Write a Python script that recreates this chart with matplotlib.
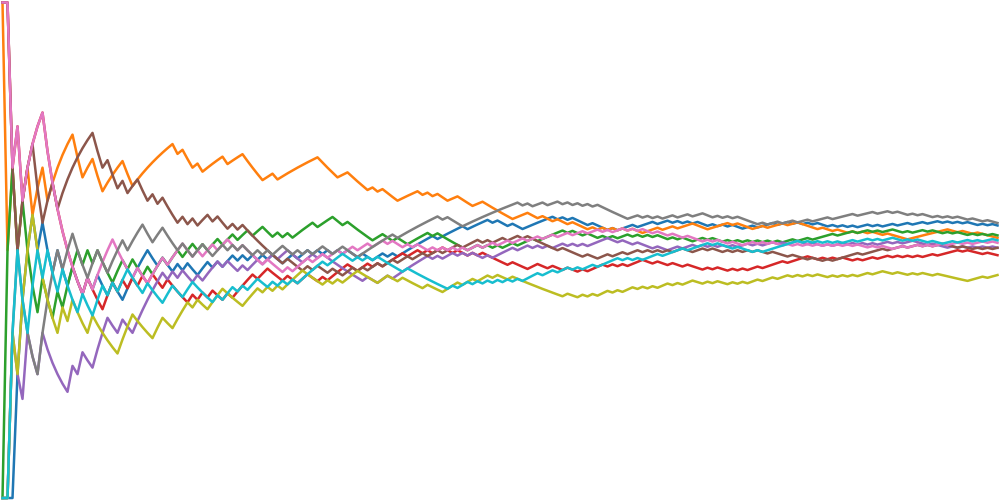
import numpy as np
import matplotlib
matplotlib.use("Agg")
import matplotlib.pyplot as plt

# Coin-flip sequences (1 = head, 0 = tail); each line is the running share of heads.
flips_blue = "".join([
    "000", "111101", "0010010010100100", "11111", "0010010100", "1101011010", "1010100110",
    "1101", "010101", "00100", "11010", "11", "1111", "1011", "11", "1011", "1101", "00100", "11111",
    "1010100010", "0010111011", "1011010101", "0010101001", "1011101101", "0101001010",
    "1011010110", "1101101101", "0101001010"])
flips_orange = "".join([
    "1010110", "11011111", "00", "11", "00", "1111", "00", "11111111", "01", "00", "1", "0",
    "1111", "0", "111", "0000", "11", "0", "11111111", "0000", "11", "0000", "101", "000",
    "1111", "0101", "00", "11", "000", "11", "000000", "11", "10010",
    "0100100010", "1010101001", "1101101110", "0011110100", "0110111011", "0000100100",
    "1010100100", "0011111111", "0010010000"])
flips_green = "".join([
    "011010", "00100", "10111010100011010010", "110110110", "1011011011", "011", "0010101",
    "111", "0", "111", "00", "1", "00000", "11", "00100", "1111", "0", "1", "000000", "110101",
    "0110111011", "1110100100", "1010110101", "0100101001", "1010010101", "0101010110",
    "1101111011", "1011010110", "0101101001", "0100101010"])
flips_red = "".join([
    "110101111", "00000000", "10", "00", "1", "10101010", "1001000010", "1010010111",
    "1011000100", "1100101111", "0011010111", "1011010110", "0100101000", "0010001100",
    "1001001011", "1010101110", "0100100100", "0101001010", "1101111011", "1100101010",
    "0101101101", "0101011011", "1101", "000100"])
flips_purple = "".join([
    "001001001", "00000", "1", "0", "1", "00", "111", "00", "1", "00", "111", "111", "0101001",
    "011101", "0010", "11011011", "000", "110", "10", "00000", "00100", "1101", "1111", "11",
    "0101", "101010", "0101", "111011", "010101101", "0101", "111", "0010010", "00100",
    "1101101", "0101010", "110101101", "011", "00100101", "10101010", "11010110", "00100010",
    "10101010"])
flips_brown = "".join([
    "110", "0", "111", "00", "11", "0", "1111111",
    "00", "1", "00", "1", "0", "11", "00", "1", "0", "1", "000", "1", "0", "1", "0",
    "11", "0", "1", "00", "1", "0", "1", "00000000", "1", "00",
    "0101001001", "1010110110", "1101101101", "110111", "0101", "101101", "0000", "001000",
    "0100", "1101101101", "0101011001", "1010010101", "0100100010", "0010010111",
    "1101111011", "1011010110", "0010010101"])
flips_pink = "".join([
    "110101111", "00000000", "1", "0", "1111", "0000", "1", "00", "1110111", "0010", "11011",
    "00", "10000", "100", "0101", "1101", "101101", "1011011010", "0101001010", "1010110110",
    "1101101101", "1011011011", "0101101010", "0100100100", "0101001001", "1010100101",
    "0101010101", "0100101001", "1011010110", "1101011010"])
flips_gray = "".join([
    "001100", "00", "1111", "0", "11", "000", "11", "00", "111", "0", "111", "00110001001",
    "1001101010", "0101011001", "01011", "00110", "00", "11111110111111", "11", "010001",
    "111111", "1111", "0", "10110", "1101", "010", "101", "000000", "1101", "0101101101",
    "1001010100", "0010110110", "1101110111", "1011101101", "0010100101", "0100100100"])
flips_olive = "".join([
    "0010111", "00000", "1", "0", "1", "000100000", "111", "0000", "11", "00", "111", "0", "1",
    "00", "111", "0000", "11101", "0101", "111", "0000", "10101", "1100001100", "1000010001",
    "1101101101", "0010000000", "000100", "1010", "1101011010", "1011010110", "0101001010",
    "1101101101", "0101001010", "1011011001", "0010100100", "0000", "111011"])
flips_cyan = "".join([
    "0011001101", "00", "1", "0", "00100", "1101", "0", "1", "1", "000", "1", "000", "11",
    "00", "11", "00", "0010", "11010", "110", "0101010", "1111", "10", "1110", "01010",
    "100000100", "0000", "0010", "11", "010101", "010101", "11011", "011010", "11011", "11",
    "010101", "1101111011", "1101000100", "0101111111", "0101010101", "1011010110",
    "0101001001", "1011010110"])

series = [flips_blue, flips_orange, flips_green, flips_red, flips_purple,
          flips_brown, flips_pink, flips_gray, flips_olive, flips_cyan]
colors = ["tab:blue", "tab:orange", "tab:green", "tab:red", "tab:purple",
          "tab:brown", "tab:pink", "tab:gray", "tab:olive", "tab:cyan"]

lengths = [len(s) for s in series]
if any(L != 200 for L in lengths):
    raise SystemExit("bad lengths: %s" % lengths)

fig = plt.figure(figsize=(10, 5), dpi=100)
ax = fig.add_axes([0, 0, 1, 1])
n = np.arange(1, 201)
for s, c in zip(series, colors):
    heads = np.array([int(ch) for ch in s])
    ax.plot(n, np.cumsum(heads) / n, color=c, lw=1.8)
ax.set_xlim(0.5, 200.5)
ax.set_ylim(-0.004, 1.005)
ax.axis("off")
fig.savefig("out.png", dpi=100)
